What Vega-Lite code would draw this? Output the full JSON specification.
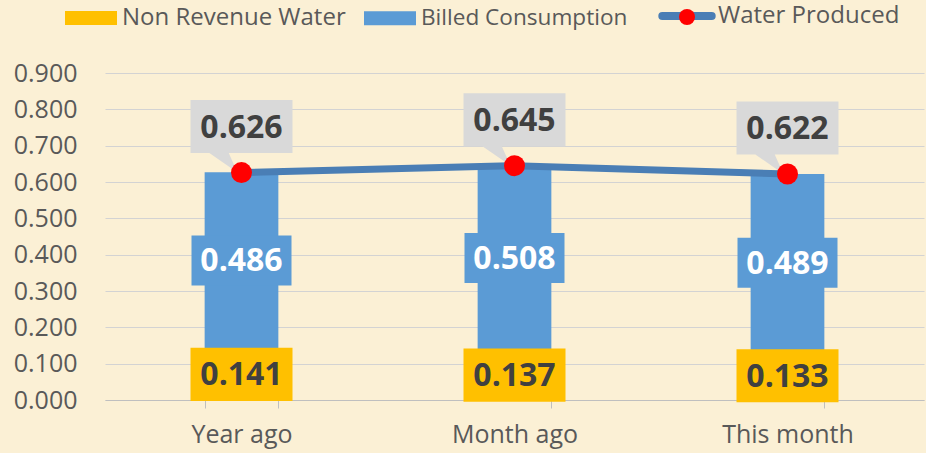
{
  "$schema": "https://vega.github.io/schema/vega-lite/v6.json",
  "width": 819,
  "height": 327,
  "autosize": {"type": "none"},
  "padding": {"left": 105, "top": 73, "right": 2, "bottom": 53},
  "background": "#FBF0D5",
  "config": {
    "view": {"stroke": null},
    "font": "Open Sans",
    "axisY": {
      "title": null,
      "format": ".3f",
      "labelFontSize": 25,
      "labelColor": "#595959",
      "labelPadding": 28,
      "labelOverlap": false,
      "labelFlush": false,
      "ticks": false,
      "tickSize": 0,
      "domain": false,
      "grid": true,
      "gridColor": "#D3D3D3",
      "gridWidth": 1
    }
  },
  "data": {
    "values": [
      {"cat": "Year ago", "nrw": 0.141, "billed": 0.486, "produced": 0.626},
      {"cat": "Month ago", "nrw": 0.137, "billed": 0.508, "produced": 0.645},
      {"cat": "This month", "nrw": 0.133, "billed": 0.489, "produced": 0.622}
    ]
  },
  "transform": [
    {"calculate": "datum.nrw + datum.billed", "as": "top"},
    {"calculate": "datum.nrw / 2", "as": "nrwMid"},
    {"calculate": "datum.nrw + datum.billed / 2", "as": "billedMid"}
  ],
  "encoding": {
    "x": {
      "field": "cat",
      "type": "nominal",
      "sort": null,
      "scale": {"paddingInner": 0.73, "paddingOuter": 0.365},
      "axis": {
        "title": null,
        "labelAngle": 0,
        "labelFontSize": 25,
        "labelColor": "#595959",
        "labelPadding": 14,
        "domainColor": "#BFBFBF",
        "domainWidth": 1,
        "tickColor": "#BFBFBF",
        "tickSize": 8,
        "tickBand": "extent",
        "grid": false
      }
    }
  },
  "layer": [
    {
      "mark": {"type": "bar"},
      "encoding": {
        "y": {
          "field": "nrw",
          "type": "quantitative",
          "scale": {"domain": [0, 0.9], "nice": false},
          "axis": {"values": [0, 0.1, 0.2, 0.3, 0.4, 0.5, 0.6, 0.7, 0.8, 0.9]}
        },
        "color": {
          "datum": "Non Revenue Water",
          "scale": {
            "domain": ["Non Revenue Water", "Billed Consumption", "Water Produced"],
            "range": ["#FFC000", "#5B9BD5", "#4A7EB5"]
          },
          "legend": {
            "title": null,
            "orient": "none",
            "direction": "horizontal",
            "columns": 3,
            "legendX": -26,
            "legendY": -69,
            "padding": 0,
            "symbolSize": 2704,
            "symbolStrokeWidth": 0,
            "labelFontSize": 24,
            "labelColor": "#595959",
            "labelLimit": 400,
            "labelOffset": 19,
            "columnPadding": 18,
            "encode": {
              "symbols": {
                "update": {
                  "shape": {"signal": "datum.label === 'Water Produced' ? 'M-0.95,0H0.95' : 'M-1,-0.27H1V0.27H-1Z'"},
                  "stroke": {"signal": "datum.label === 'Water Produced' ? '#4A7EB5' : 'transparent'"},
                  "strokeWidth": {"signal": "datum.label === 'Water Produced' ? 8 : 0"},
                  "strokeCap": {"value": "round"},
                  "opacity": {"value": 1}
                }
              },
              "labels": {
                "update": {
                  "fontSize": {"signal": "datum.label === 'Billed Consumption' ? 22.6 : 24"}
                }
              }
            }
          }
        }
      }
    },
    {
      "mark": {"type": "bar"},
      "encoding": {
        "y": {"field": "nrw", "type": "quantitative", "axis": {"values": [0, 0.1, 0.2, 0.3, 0.4, 0.5, 0.6, 0.7, 0.8, 0.9]}},
        "y2": {"field": "top"},
        "color": {"datum": "Billed Consumption"}
      }
    },
    {
      "mark": {"type": "line", "color": "#4A7EB5", "strokeWidth": 7},
      "encoding": {
        "y": {"field": "produced", "type": "quantitative", "axis": {"values": [0, 0.1, 0.2, 0.3, 0.4, 0.5, 0.6, 0.7, 0.8, 0.9]}}
      }
    },
    {
      "mark": {
        "type": "point",
        "filled": true,
        "opacity": 1,
        "strokeWidth": 0,
        "color": "#D9D9D9",
        "size": 10404,
        "yOffset": -46,
        "shape": "M-1,-0.52H1V0.52H-0.25L-0.08,0.9L-0.63,0.52H-1Z"
      },
      "encoding": {
        "y": {"field": "produced", "type": "quantitative", "axis": {"values": [0, 0.1, 0.2, 0.3, 0.4, 0.5, 0.6, 0.7, 0.8, 0.9]}}
      }
    },
    {
      "mark": {"type": "point", "filled": true, "opacity": 1, "strokeWidth": 0, "size": 441, "shape": "circle"},
      "encoding": {
        "y": {"field": "produced", "type": "quantitative", "axis": {"values": [0, 0.1, 0.2, 0.3, 0.4, 0.5, 0.6, 0.7, 0.8, 0.9]}},
        "fill": {
          "datum": "Water Produced",
          "scale": {"range": ["#FF0000"]},
          "legend": {
            "title": null,
            "orient": "none",
            "legendX": 574,
            "legendY": -64,
            "padding": 0,
            "symbolType": "circle",
            "symbolSize": 256,
            "symbolStrokeWidth": 0,
            "symbolOpacity": 1,
            "labelExpr": "''"
          }
        }
      }
    },
    {
      "mark": {
        "type": "point",
        "filled": true,
        "opacity": 1,
        "strokeWidth": 0,
        "color": "#FFC000",
        "size": 10404,
        "shape": "M-1,-0.52H1V0.52H-1Z"
      },
      "encoding": {
        "y": {"field": "nrwMid", "type": "quantitative", "axis": {"values": [0, 0.1, 0.2, 0.3, 0.4, 0.5, 0.6, 0.7, 0.8, 0.9]}}
      }
    },
    {
      "mark": {
        "type": "point",
        "filled": true,
        "opacity": 1,
        "strokeWidth": 0,
        "color": "#5B9BD5",
        "size": 10000,
        "shape": "M-1,-0.5H1V0.5H-1Z"
      },
      "encoding": {
        "y": {"field": "billedMid", "type": "quantitative", "axis": {"values": [0, 0.1, 0.2, 0.3, 0.4, 0.5, 0.6, 0.7, 0.8, 0.9]}}
      }
    },
    {
      "mark": {"type": "text", "font": "Open Sans", "fontSize": 32, "fontWeight": "bold", "color": "#404040", "baseline": "middle", "dy": 1},
      "encoding": {
        "y": {"field": "nrwMid", "type": "quantitative", "axis": {"values": [0, 0.1, 0.2, 0.3, 0.4, 0.5, 0.6, 0.7, 0.8, 0.9]}},
        "text": {"field": "nrw", "type": "quantitative", "format": ".3f"}
      }
    },
    {
      "mark": {"type": "text", "font": "Open Sans", "fontSize": 32, "fontWeight": "bold", "color": "#FFFFFF", "baseline": "middle", "dy": 1},
      "encoding": {
        "y": {"field": "billedMid", "type": "quantitative", "axis": {"values": [0, 0.1, 0.2, 0.3, 0.4, 0.5, 0.6, 0.7, 0.8, 0.9]}},
        "text": {"field": "billed", "type": "quantitative", "format": ".3f"}
      }
    },
    {
      "mark": {"type": "text", "font": "Open Sans", "fontSize": 32, "fontWeight": "bold", "color": "#404040", "baseline": "middle", "dy": 1, "yOffset": -46},
      "encoding": {
        "y": {"field": "produced", "type": "quantitative", "axis": {"values": [0, 0.1, 0.2, 0.3, 0.4, 0.5, 0.6, 0.7, 0.8, 0.9]}},
        "text": {"field": "produced", "type": "quantitative", "format": ".3f"}
      }
    }
  ]
}
